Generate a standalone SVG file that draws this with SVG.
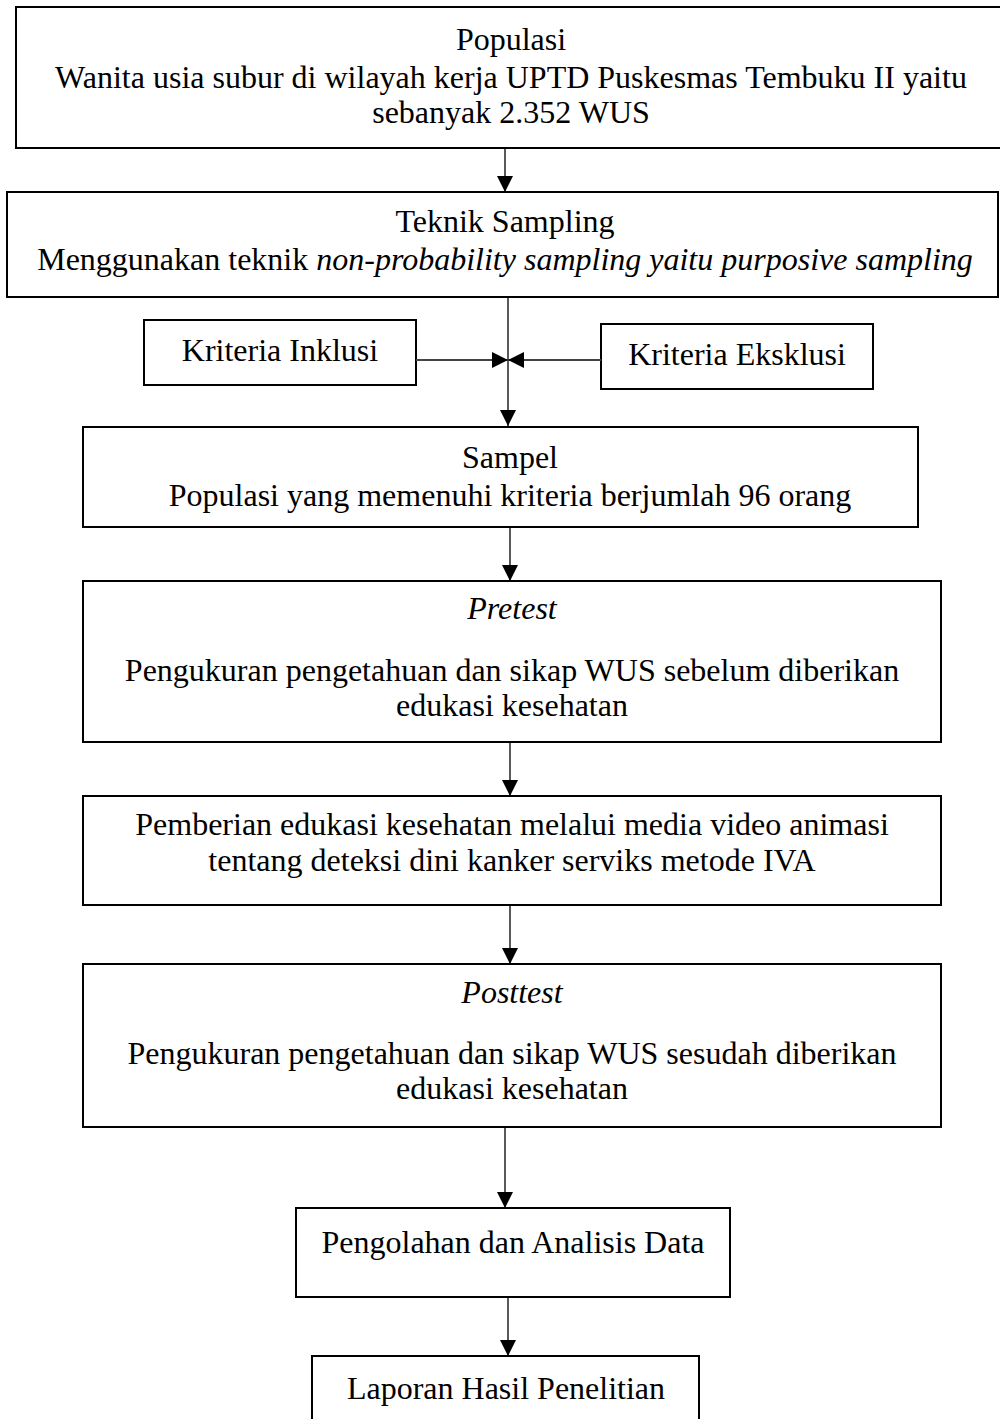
<svg xmlns="http://www.w3.org/2000/svg" width="1000" height="1419" viewBox="0 0 1000 1419">
<defs>
<style>
.box{fill:#fff;stroke:#000;stroke-width:2}
.t{font-family:"Liberation Serif","Times New Roman",serif;font-size:32px;fill:#000;text-anchor:middle}
.i{font-style:italic}
.ln{stroke:#000;stroke-width:1.3;fill:none}
.lg{stroke:#444;stroke-width:2;fill:none}
</style>
<marker id="ah" viewBox="0 0 10 10" refX="10" refY="5" markerWidth="16" markerHeight="16" markerUnits="userSpaceOnUse" orient="auto"><path d="M0,0 L10,5 L0,10 z" fill="#000"/></marker>
</defs>
<rect width="1000" height="1419" fill="#fff"/>
<g id="populasi"><rect class="box" x="16" y="7" width="1000" height="141"/>
<text class="t" x="511" y="50">Populasi</text>
<text class="t" x="511" y="88">Wanita usia subur di wilayah kerja UPTD Puskesmas Tembuku II yaitu</text>
<text class="t" x="511" y="123">sebanyak 2.352 WUS</text></g>
<g id="teknik"><rect class="box" x="7" y="192" width="991" height="105"/>
<text class="t" x="505" y="232">Teknik Sampling</text>
<text class="t" x="505" y="270">Menggunakan teknik <tspan class="i">non-probability sampling yaitu purposive sampling</tspan></text></g>
<g id="inklusi"><rect class="box" x="144" y="320" width="272" height="65"/>
<text class="t" x="280" y="361">Kriteria Inklusi</text></g>
<g id="eksklusi"><rect class="box" x="601" y="324" width="272" height="65"/>
<text class="t" x="737" y="365">Kriteria Eksklusi</text></g>
<g id="sampel"><rect class="box" x="83" y="427" width="835" height="100"/>
<text class="t" x="510" y="468">Sampel</text>
<text class="t" x="510" y="506">Populasi yang memenuhi kriteria berjumlah 96 orang</text></g>
<g id="pretest"><rect class="box" x="83" y="581" width="858" height="161"/>
<text class="t i" x="512" y="619">Pretest</text>
<text class="t" x="512" y="681">Pengukuran pengetahuan dan sikap WUS sebelum diberikan</text>
<text class="t" x="512" y="716">edukasi kesehatan</text></g>
<g id="pemberian"><rect class="box" x="83" y="796" width="858" height="109"/>
<text class="t" x="512" y="835">Pemberian edukasi kesehatan melalui media video animasi</text>
<text class="t" x="512" y="871">tentang deteksi dini kanker serviks metode IVA</text></g>
<g id="posttest"><rect class="box" x="83" y="964" width="858" height="163"/>
<text class="t i" x="512" y="1003">Posttest</text>
<text class="t" x="512" y="1064">Pengukuran pengetahuan dan sikap WUS sesudah diberikan</text>
<text class="t" x="512" y="1099">edukasi kesehatan</text></g>
<g id="pengolahan"><rect class="box" x="296" y="1208" width="434" height="89"/>
<text class="t" x="513" y="1253">Pengolahan dan Analisis Data</text></g>
<g id="laporan"><rect class="box" x="312" y="1356" width="387" height="80"/>
<text class="t" x="506" y="1399">Laporan Hasil Penelitian</text></g>
<g id="connectors">
<line class="ln" x1="505" y1="148" x2="505" y2="192" marker-end="url(#ah)"/>
<line class="ln" x1="508" y1="297" x2="508" y2="426" marker-end="url(#ah)"/>
<line class="lg" x1="416" y1="360" x2="508" y2="360" marker-end="url(#ah)"/>
<line class="lg" x1="601" y1="360" x2="508" y2="360" marker-end="url(#ah)"/>
<line class="ln" x1="510" y1="527" x2="510" y2="581" marker-end="url(#ah)"/>
<line class="ln" x1="510" y1="742" x2="510" y2="796" marker-end="url(#ah)"/>
<line class="ln" x1="510" y1="905" x2="510" y2="964" marker-end="url(#ah)"/>
<line class="ln" x1="505" y1="1127" x2="505" y2="1208" marker-end="url(#ah)"/>
<line class="ln" x1="508" y1="1297" x2="508" y2="1356" marker-end="url(#ah)"/>
</g>
</svg>
